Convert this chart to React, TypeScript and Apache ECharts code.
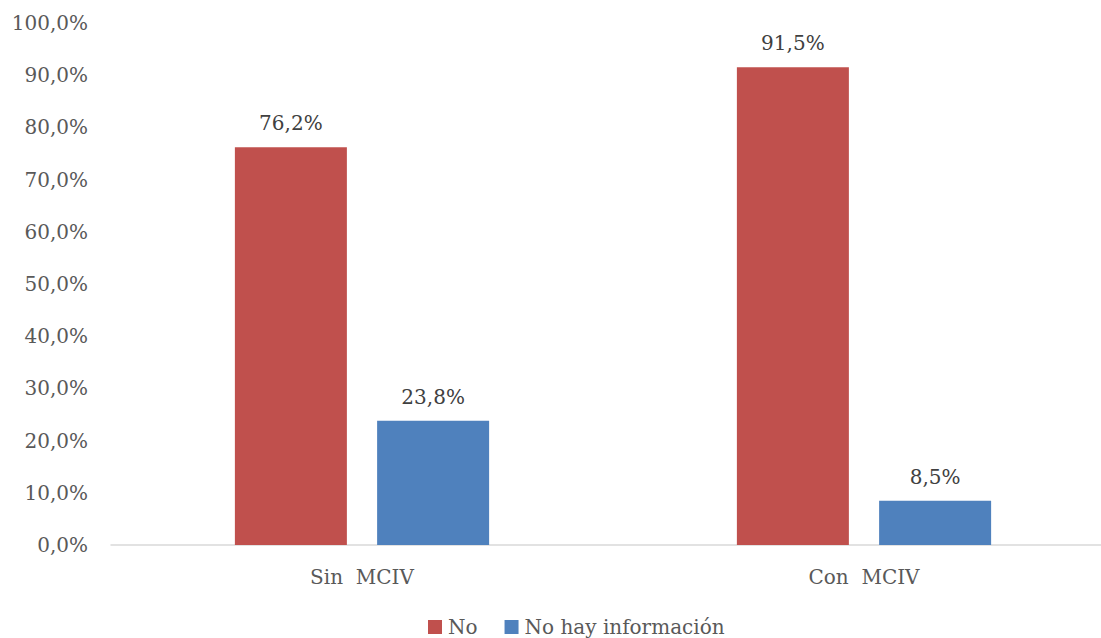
import React, { useEffect, useRef } from "react";
import * as echarts from "echarts";

const categories = ["Sin  MCIV", "Con  MCIV"];
const seriesNames = ["No", "No hay información"];
const noValues = [76.2, 91.5];
const noInfoValues = [23.8, 8.5];
const colors = ["#C0504D", "#4F81BD"];

const FONT = "'DejaVu Serif', 'Liberation Serif', serif";
const fmt = (v: number) => v.toFixed(1).replace(".", ",") + "%";

export default function App() {
  const ref = useRef<HTMLDivElement>(null);
  useEffect(() => {
    if (!ref.current) return;
    const chart = echarts.init(ref.current, null, { renderer: "svg" });
    const label = {
      show: true,
      position: "top" as const,
      distance: 14,
      color: "#404040",
      fontFamily: FONT,
      fontSize: 20,
      formatter: (p: any) => fmt(p.value),
    };
    chart.setOption({
      animation: false,
      textStyle: { fontFamily: FONT },
      grid: { left: 111, right: 0, top: 23, bottom: 93, containLabel: false },
      legend: {
        data: seriesNames,
        top: 612,
        left: 423,
        itemWidth: 14,
        itemHeight: 14,
        itemGap: 27,
        icon: "rect",
        textStyle: { fontFamily: FONT, fontSize: 20, color: "#595959", padding: [0, 0, 0, 1] },
      },
      xAxis: {
        type: "category",
        data: categories,
        axisLine: { lineStyle: { color: "#D9D9D9", width: 1.5 } },
        axisTick: { show: false },
        axisLabel: { fontFamily: FONT, fontSize: 20, color: "#595959", margin: 22 },
      },
      yAxis: {
        type: "value",
        min: 0,
        max: 100,
        interval: 10,
        splitLine: { show: false },
        axisLine: { show: false },
        axisTick: { show: false },
        axisLabel: {
          fontFamily: FONT,
          fontSize: 20,
          color: "#595959",
          margin: 23,
          formatter: (v: number) => fmt(v),
        },
      },
      series: [
        {
          name: seriesNames[0],
          type: "bar",
          data: noValues,
          barWidth: 112,
          barGap: "27%",
          itemStyle: { color: colors[0] },
          label,
        },
        {
          name: seriesNames[1],
          type: "bar",
          data: noInfoValues,
          barWidth: 112,
          barGap: "27%",
          itemStyle: { color: colors[1] },
          label,
        },
      ],
    });
    return () => chart.dispose();
  }, []);
  return (
    <div
      style={{ position: "absolute", left: 0, top: 0, width: 1101, height: 638, overflow: "hidden", background: "#fff" }}
    >
      <div ref={ref} style={{ width: 1115, height: 638 }} />
    </div>
  );
}
